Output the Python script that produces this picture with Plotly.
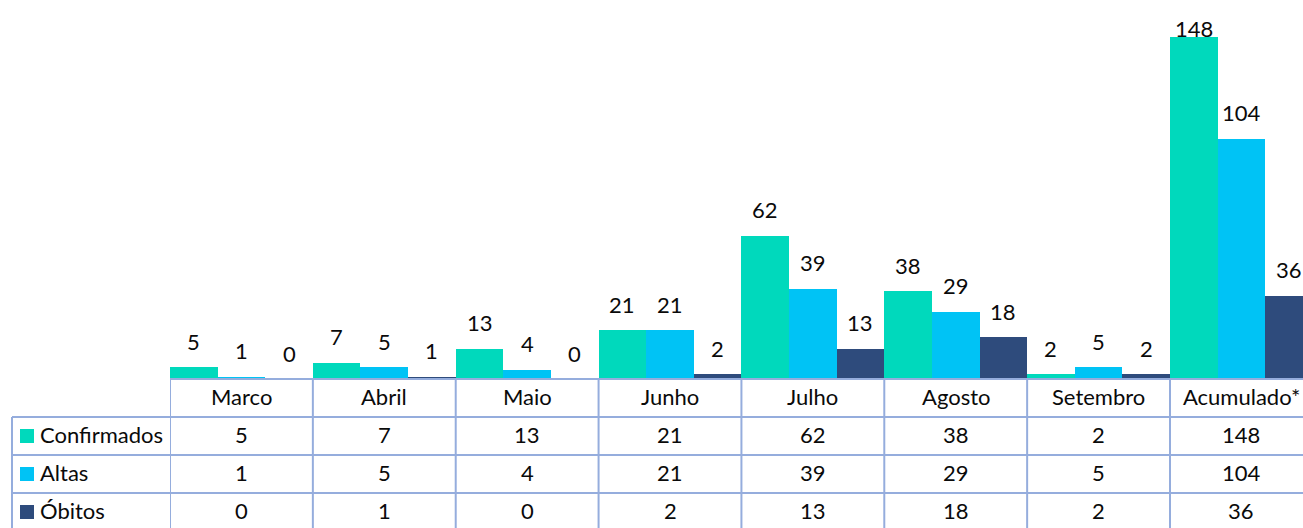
import plotly.graph_objects as go

categories = ["Marco", "Abril", "Maio", "Junho", "Julho", "Agosto", "Setembro", "Acumulado*"]
series_names = ["Confirmados", "Altas", "Óbitos"]
confirmados = [5, 7, 13, 21, 62, 38, 2, 148]
altas = [1, 5, 4, 21, 39, 29, 5, 104]
obitos = [0, 1, 0, 2, 13, 18, 2, 36]
series_values = [confirmados, altas, obitos]
colors = ["#00D9BC", "#00C3F5", "#2E4B7C"]

W, H = 1303, 528
plot_left = 170
base_px = 379
cat_w = 1000 / 7
ymax = 164.0
px_per_unit = base_px / ymax
line_col = "#95ADDD"
FONT = "Lato"
FS = 22
txt_col = "#0a0a0a"

fig = go.Figure()
offsets = [-1/3, 0, 1/3]
for s, (name, vals, col) in enumerate(zip(series_names, series_values, colors)):
    fig.add_trace(go.Bar(
        x=list(range(len(categories))), y=vals, name=name,
        marker=dict(color=col, line=dict(width=0)),
        width=1/3, offset=offsets[s] - 1/6, showlegend=False,
    ))

def py(p):  # pixel y -> paper
    return 1 - p / H

def px(p):
    return p / W

annotations = []
for s, vals in enumerate(series_values):
    for i, v in enumerate(vals):
        top = base_px - v * px_per_unit
        shift = min(26, top - 28)
        annotations.append(dict(x=i + offsets[s], y=v, xref="x", yref="y", text=str(v),
                                showarrow=False, yanchor="middle", yshift=shift,
                                font=dict(family=FONT, size=FS, color=txt_col)))

row_tops = [379, 417, 455, 493, 531]
for i, c in enumerate(categories):
    annotations.append(dict(x=i, y=py((row_tops[0] + row_tops[1]) / 2 - 1.5), xref="x", yref="paper",
                            text=c, showarrow=False, yanchor="middle",
                            font=dict(family=FONT, size=FS, color=txt_col)))
shapes = []
for r, (name, vals, col) in enumerate(zip(series_names, series_values, colors)):
    yc = (row_tops[r + 1] + row_tops[r + 2]) / 2
    annotations.append(dict(x=px(38), y=py(yc - 1.5), xref="paper", yref="paper", text=name,
                            showarrow=False, xanchor="left", yanchor="middle",
                            font=dict(family=FONT, size=FS, color=txt_col)))
    shapes.append(dict(type="rect", xref="paper", yref="paper",
                       x0=px(20), x1=px(34), y0=py(yc - 7), y1=py(yc + 7),
                       fillcolor=col, line=dict(width=0)))
    for i, v in enumerate(vals):
        annotations.append(dict(x=i, y=py(yc - 1.5), xref="x", yref="paper", text=str(v),
                                showarrow=False, yanchor="middle",
                                font=dict(family=FONT, size=FS, color=txt_col)))

for k in range(len(categories) + 1):
    shapes.append(dict(type="line", xref="x", yref="paper", x0=k - 0.5, x1=k - 0.5,
                       y0=py(base_px), y1=py(H + 5), line=dict(color=line_col, width=2)))
shapes.append(dict(type="line", xref="paper", yref="paper", x0=px(12), x1=px(12),
                   y0=py(417), y1=py(H + 5), line=dict(color=line_col, width=2)))
shapes.append(dict(type="line", xref="paper", yref="paper", x0=px(plot_left), x1=1,
                   y0=py(base_px), y1=py(base_px), line=dict(color=line_col, width=2)))
for yy in row_tops[1:4]:
    shapes.append(dict(type="line", xref="paper", yref="paper", x0=px(12), x1=1,
                       y0=py(yy), y1=py(yy), line=dict(color=line_col, width=2)))

x_end = -0.5 + (W - plot_left) / cat_w
fig.update_layout(
    width=W, height=H, margin=dict(l=0, r=0, t=0, b=0),
    paper_bgcolor="white", plot_bgcolor="white",
    barmode="overlay", bargap=0,
    xaxis=dict(domain=[px(plot_left), 1], range=[-0.5, x_end], showticklabels=False,
               showgrid=False, zeroline=False, showline=False, ticks=""),
    yaxis=dict(domain=[py(base_px), 1], range=[0, ymax], showticklabels=False,
               showgrid=False, zeroline=False, showline=False, ticks=""),
    annotations=annotations, shapes=shapes, showlegend=False,
)
fig.write_html("out.html", config={"displayModeBar": False},
               post_script="document.body.style.margin='0';document.body.style.overflow='hidden';")
